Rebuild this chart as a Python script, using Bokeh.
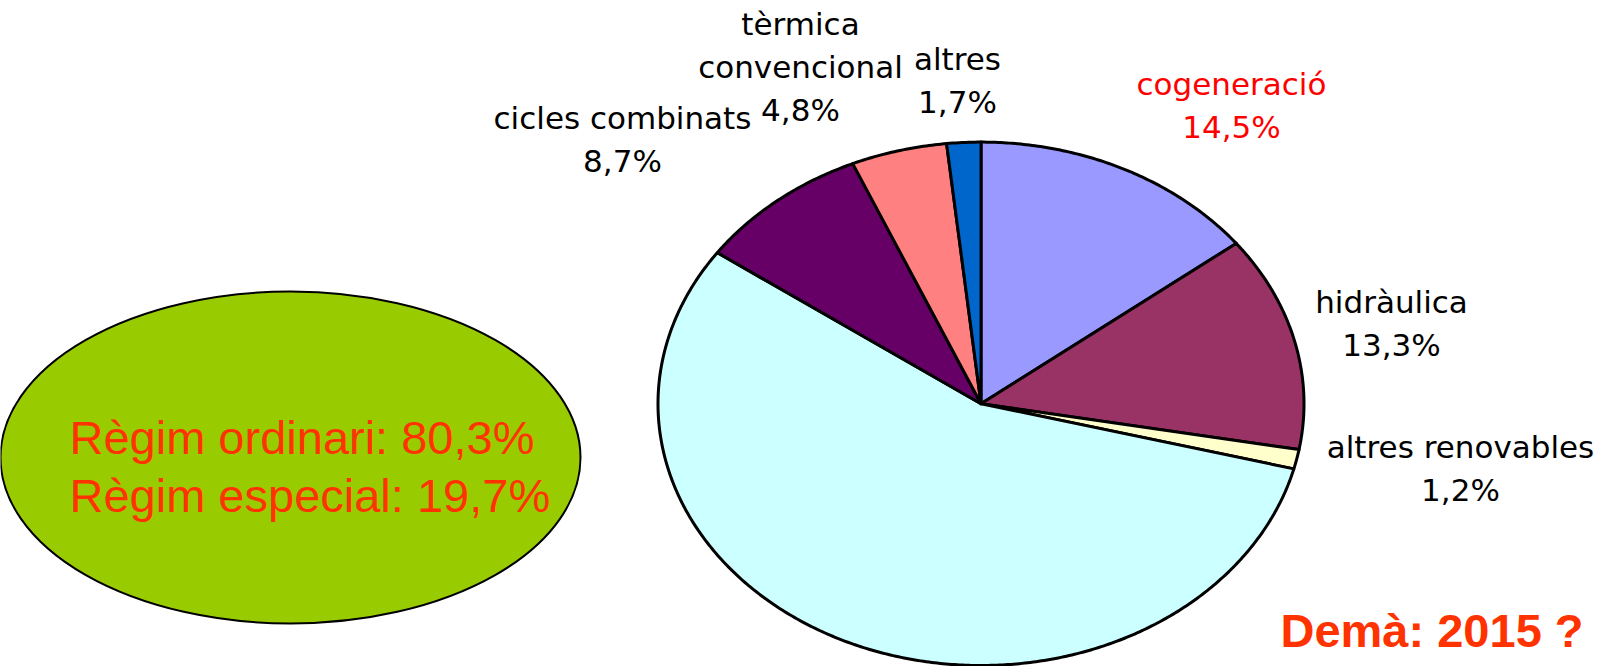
import numpy as np
from bokeh.plotting import figure
from bokeh.models import Range1d, ColumnDataSource
from bokeh.core.properties import value
from bokeh.embed import file_html
from bokeh.resources import INLINE

# ---------------- data ----------------
categories = ["cogeneració", "hidràulica", "altres renovables", "nuclear",
              "cicles combinats", "tèrmica convencional", "altres"]
label_lines = ["cogeneració", "hidràulica", "altres renovables", "",
               "cicles combinats", "tèrmica\nconvencional", "altres"]
shares = [14.5, 13.3, 1.2, 55.8, 8.7, 4.8, 1.7]
colors = ["#9999FF", "#993366", "#FFFFCC", "#CCFFFF", "#660066", "#FF8080", "#0066CC"]
label_colors = ["#FF0000", "#000000", "#000000", "#000000", "#000000", "#000000", "#000000"]

regim_names = ["Règim ordinari", "Règim especial"]
regim_values = [80.3, 19.7]
headline = "Demà: 2015 ?"

# ---------------- layout ----------------
W, H = 1609, 666
def Y(y):  # screen row -> data y
    return H - y

p = figure(width=W, height=H, x_range=Range1d(0, W), y_range=Range1d(0, H),
           x_axis_type=None, y_axis_type=None, toolbar_location=None,
           output_backend="svg", min_border=0, outline_line_color=None,
           background_fill_color="white", border_fill_color="white")
p.grid.visible = False

# green ellipse with régim text
p.ellipse(x=[290], y=[Y(457)], width=[580], height=[332],
          fill_color="#99CC00", line_color="black", line_width=2)
reg_texts = [f"{n}: {str(v).replace('.', ',')}%" for n, v in zip(regim_names, regim_values)]
p.text(x=[69, 69], y=[Y(454 - 17), Y(512 - 17)], text=reg_texts, text_color="#FF3300",
       text_font=value("Liberation Sans"), text_font_size="47px",
       text_align="left", text_baseline="alphabetic")

# pie (squashed ellipse, clockwise from top)
cx, cy, rx, ry = 980.5, Y(403.3), 323, 261.7
total = float(sum(shares))
bounds = np.concatenate([[0.0], np.cumsum(shares)]) / total * 2 * np.pi
xs, ys = [], []
for a0, a1 in zip(bounds[:-1], bounds[1:]):
    t = np.linspace(a0, a1, max(int((a1 - a0) / (2 * np.pi) * 720), 4))
    xs.append(np.concatenate([[cx], cx + rx * np.sin(t)]).tolist())
    ys.append(np.concatenate([[cy], cy + ry * np.cos(t)]).tolist())
src = ColumnDataSource(dict(xs=xs, ys=ys, color=colors, name=categories))
p.patches("xs", "ys", source=src, fill_color="color", line_color="black",
          line_width=3, line_join="round")

# slice labels: (center x, baseline of percentage line)
anchors = [(1231, 137), (1391, 355), (1460, 500), None, (622, 171), (800, 120), (957, 112)]
LS = 43
SHIFT = 11
tx, ty, tt, tc = [], [], [], []
for lab, v, anc, col in zip(label_lines, shares, anchors, label_colors):
    if anc is None:
        continue
    ax, ay = anc
    lines = lab.split("\n") + [f"{v:.1f}".replace(".", ",") + "%"]
    n = len(lines)
    for i, line in enumerate(lines):
        tx.append(ax)
        ty.append(Y(ay - SHIFT - (n - 1 - i) * LS))
        tt.append(line)
        tc.append(col)
p.text(x=tx, y=ty, text=tt, text_color=tc, text_font=value("DejaVu Sans"),
       text_font_size="31px", text_align="center", text_baseline="alphabetic")

# headline
p.text(x=[1280], y=[Y(648 - 18)], text=[headline], text_color="#FF3300",
       text_font=value("Liberation Sans"), text_font_style="bold",
       text_font_size="47px", text_align="left", text_baseline="alphabetic")

open("out.html", "w").write(file_html(p, INLINE))
